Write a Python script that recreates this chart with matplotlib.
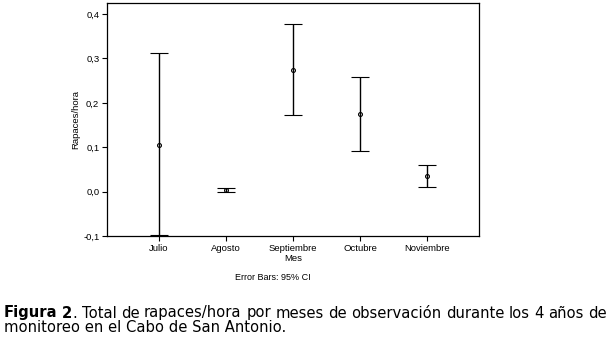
import matplotlib
matplotlib.use('Agg')
import matplotlib.pyplot as plt
import numpy as np

# data (mean and 95% CI per month)
months = ['Julio', 'Agosto', 'Septiembre', 'Octubre', 'Noviembre']
means = [0.106, 0.004, 0.275, 0.174, 0.036]
ci_low = [-0.098, -0.001, 0.173, 0.092, 0.011]
ci_high = [0.313, 0.008, 0.378, 0.258, 0.060]
yticks = [-0.1, 0.0, 0.1, 0.2, 0.3, 0.4]

plt.rcParams['font.family'] = ['Liberation Sans', 'DejaVu Sans']

W, H = 611, 338
fig = plt.figure(figsize=(W / 100, H / 100), dpi=100)
ax = fig.add_axes([107 / W, 1 - 236 / H, 372 / W, 233 / H])

x = np.arange(1, len(months) + 1)
means = np.array(means)
err = [means - np.array(ci_low), np.array(ci_high) - means]
ax.errorbar(x, means, yerr=err, fmt='o', color='black', ecolor='black',
            markersize=2.8, markerfacecolor='none', markeredgewidth=0.8,
            elinewidth=1.0, capsize=6.2, capthick=1.0)

ax.set_xlim(0.224, 5.776)
ax.set_ylim(-0.1, 0.425)
ax.set_xticks(x)
ax.set_xticklabels(months)
ax.set_yticks(yticks)
ax.set_yticklabels(['{:.1f}'.format(v).replace('.', ',') for v in yticks])
ax.tick_params(axis='both', direction='out', length=3.5, width=0.8,
               labelsize=6.8, pad=2)
for s in ax.spines.values():
    s.set_linewidth(0.9)
ax.set_xlabel('Mes', fontsize=6.8, labelpad=1)
ax.set_ylabel('Rapaces/hora', fontsize=6.8, labelpad=2)

fig.text(235 / W, 1 - 278 / H, 'Error Bars: 95% CI', fontsize=6.5,
         va='center', ha='left')

# caption, first line justified across the figure width
cap_fs = 10.6
cap_family = ['DejaVu Sans']
line1 = [[('Figura', 'bold')], [('2', 'bold'), ('.', 'normal')],
         [('Total', 'normal')], [('de', 'normal')],
         [('rapaces/hora', 'normal')], [('por', 'normal')],
         [('meses', 'normal')], [('de', 'normal')],
         [('observación', 'normal')], [('durante', 'normal')],
         [('los', 'normal')], [('4', 'normal')], [('años', 'normal')],
         [('de', 'normal')]]
line2 = 'monitoreo en el Cabo de San Antonio.'

renderer = fig.canvas.get_renderer()


def seg_width(txt, weight):
    t = fig.text(0, 0, txt, fontsize=cap_fs, fontweight=weight,
                 family=cap_family)
    w = t.get_window_extent(renderer).width
    t.remove()
    return w


x_left, x_right = 4, 607
widths = [[seg_width(s, wt) for s, wt in word] for word in line1]
word_w = [sum(ws) for ws in widths]
gap = (x_right - x_left - sum(word_w)) / (len(line1) - 1)
xp = x_left
y1 = 1 - 313 / H
for word, ws in zip(line1, widths):
    xs = xp
    for (s, wt), w in zip(word, ws):
        fig.text(xs / W, y1, s, fontsize=cap_fs, fontweight=wt,
                 family=cap_family, va='center', ha='left')
        xs += w
    xp += sum(ws) + gap

fig.text(x_left / W, 1 - 328 / H, line2, fontsize=cap_fs,
         family=cap_family, va='center', ha='left')

fig.savefig('out.png', dpi=100)
